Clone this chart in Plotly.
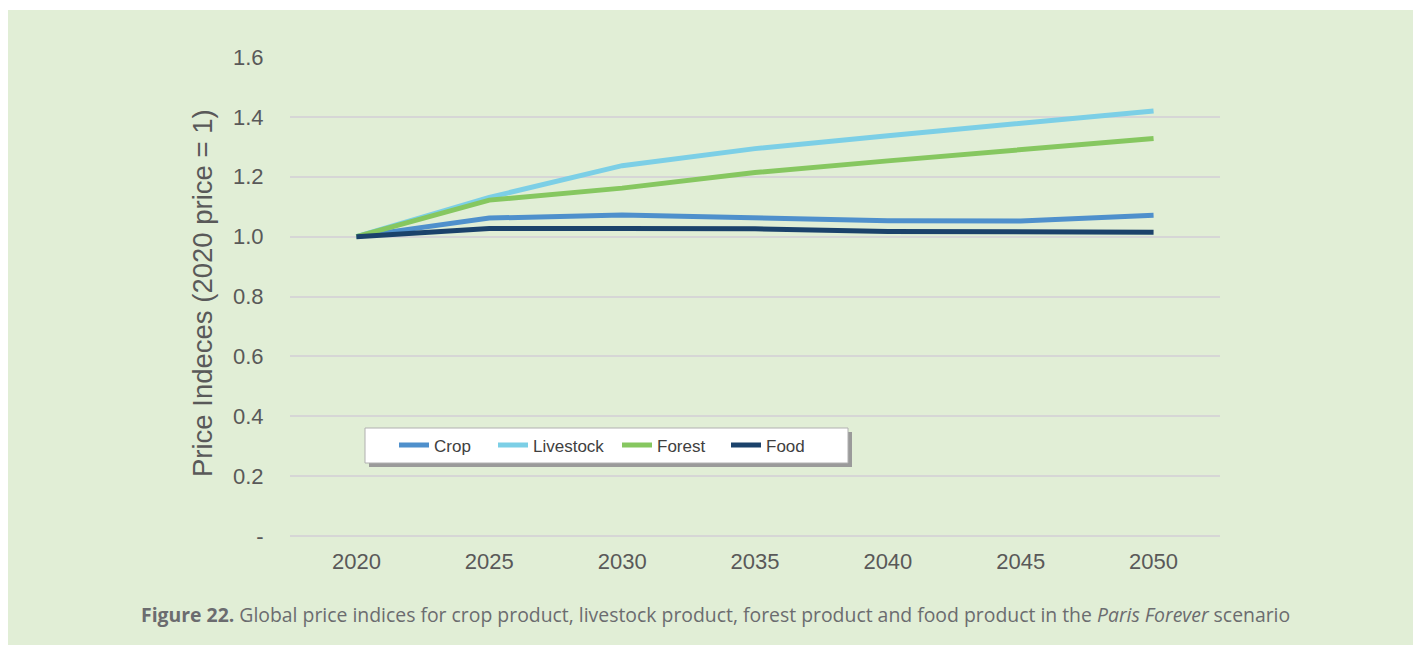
import plotly.graph_objects as go

years = ["2020", "2025", "2030", "2035", "2040", "2045", "2050"]
crop = [1.0, 1.062, 1.072, 1.062, 1.053, 1.052, 1.071]
livestock = [1.0, 1.131, 1.237, 1.294, 1.337, 1.38, 1.42]
forest = [1.0, 1.122, 1.162, 1.214, 1.253, 1.29, 1.328]
food = [1.0, 1.027, 1.027, 1.026, 1.017, 1.016, 1.015]

series = [
    ("Crop", crop, "#4f90cc"),
    ("Livestock", livestock, "#7ccfe6"),
    ("Forest", forest, "#86c760"),
    ("Food", food, "#1b426b"),
]
legend_starts = [401, 500, 624, 733]

y_ticks = [0, 0.2, 0.4, 0.6, 0.8, 1.0, 1.2, 1.4, 1.6]
y_ticktext = ["-", "0.2", "0.4", "0.6", "0.8", "1.0", "1.2", "1.4", "1.6"]

BG = "#e1eed6"
W, H = 1413, 645
L, R, T, B = 290, 1220, 57, 536
pw, ph = R - L, B - T

def px_x(p):
    return (p - L) / pw

def px_y(p):
    return (B - p) / ph

fig = go.Figure()
legends = {}
for i, (name, vals, color) in enumerate(series):
    key = "legend" if i == 0 else f"legend{i + 1}"
    fig.add_trace(go.Scatter(x=years, y=vals, name=name, mode="lines",
                             line=dict(color=color, width=5), legend=key))
    legends[key] = dict(orientation="h", x=px_x(legend_starts[i] - 7), y=px_y(445.5),
                        xanchor="left", yanchor="middle",
                        bgcolor="rgba(0,0,0,0)", borderwidth=0,
                        font=dict(size=17, color="#404040"))

fig.update_layout(
    width=W, height=H,
    margin=dict(l=L, r=W - R, t=T, b=H - B, pad=0),
    paper_bgcolor="white",
    plot_bgcolor="rgba(0,0,0,0)",
    font=dict(family="Liberation Sans, Arial, sans-serif", color="#595959"),
    showlegend=True,
    xaxis=dict(type="category", range=[-0.5, 6.5], showgrid=False, zeroline=False,
               showline=False, ticks="outside", ticklen=6, tickcolor="rgba(0,0,0,0)",
               tickfont=dict(size=22, color="#595959")),
    yaxis=dict(range=[0, 1.6], tickvals=y_ticks, ticktext=y_ticktext,
               showgrid=True, gridcolor="#d6d6d6", gridwidth=2,
               zeroline=False, showline=False, ticks="outside", ticklen=21,
               tickcolor="rgba(0,0,0,0)", tickfont=dict(size=22, color="#595959")),
    shapes=[
        dict(type="rect", xref="paper", yref="paper", x0=px_x(8), x1=px_x(1420),
             y0=px_y(650), y1=px_y(10), fillcolor=BG, line=dict(width=0), layer="below"),
        dict(type="line", xref="paper", yref="paper", x0=0, x1=1, y0=0, y1=0,
             line=dict(color="#d6d6d6", width=2), layer="below"),
        dict(type="rect", xref="paper", yref="paper", x0=px_x(369), x1=px_x(852),
             y0=px_y(467), y1=px_y(432), fillcolor="#9a9a9a", line=dict(width=0), layer="above"),
        dict(type="rect", xref="paper", yref="paper", x0=px_x(365), x1=px_x(848),
             y0=px_y(463), y1=px_y(428), fillcolor="white",
             line=dict(color="#b0b0b0", width=1), layer="above"),
    ],
    annotations=[
        dict(text="Price Indeces (2020 price = 1)", textangle=-90, xref="paper", yref="paper",
             x=px_x(202), y=px_y(293), xanchor="center", yanchor="middle", showarrow=False,
             font=dict(size=27.5, color="#595959")),
        dict(text="<b>Figure 22.</b> Global price indices for crop product, livestock product, forest product and food product in the <i>Paris Forever</i> scenario",
             xref="paper", yref="paper", x=px_x(715), y=px_y(614), xanchor="center", yanchor="middle",
             showarrow=False, font=dict(size=19.4, color="#6b6c6f", family="Open Sans, sans-serif")),
    ],
    **legends,
)

fig.write_html("out.html")
